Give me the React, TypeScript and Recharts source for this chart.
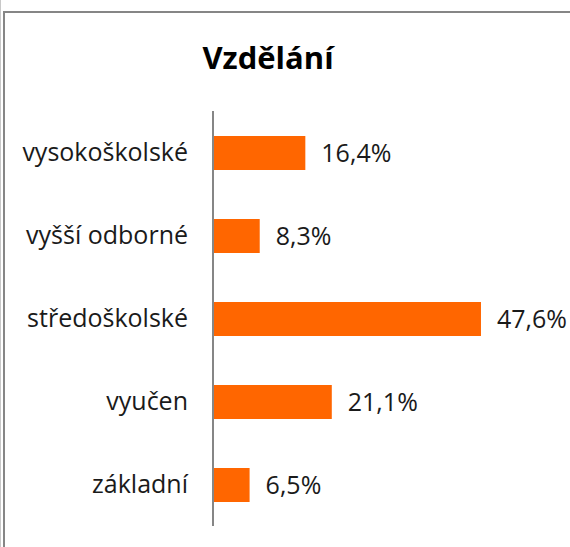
import React from "react";
import { BarChart, Bar, XAxis, YAxis, LabelList } from "recharts";

// education levels, top to bottom as in the chart
const categories = ["vysokoškolské", "vyšší odborné", "středoškolské", "vyučen", "základní"];
const shares = [16.4, 8.3, 47.6, 21.1, 6.5];

const data = categories.map((name, i) => ({ name, value: shares[i] }));

const FONT = "'Open Sans', 'Noto Sans', sans-serif";

const fmt = (v: number) => v.toFixed(1).replace(".", ",") + "%";

export default function App() {
  return (
    <div style={{ position: "absolute", left: 0, top: 0, width: 570, height: 547, background: "#fff", overflow: "hidden" }}>
      {/* chart frame: only the top and left edges fall inside the picture */}
      <div style={{ position: "absolute", left: 0, top: 0, width: 1, height: 547, background: "#c8c8c8" }} />
      <div style={{ position: "absolute", left: 3, top: 11, width: 600, height: 600, borderTop: "2px solid #868686", borderLeft: "2px solid #868686" }} />
      <div
        style={{
          position: "absolute",
          left: 0,
          width: 536,
          top: 37,
          textAlign: "center",
          fontFamily: FONT,
          fontWeight: 700,
          fontSize: 31,
          color: "#000",
          lineHeight: "40px",
        }}
      >
        Vzdělání
      </div>
      <div style={{ position: "absolute", left: 0, top: 0 }}>
        <BarChart
          width={570}
          height={547}
          data={data}
          layout="vertical"
          margin={{ top: 111, right: 75.5, bottom: 21, left: 0 }}
          barSize={34}
        >
          <XAxis type="number" domain={[0, 50]} hide />
          <YAxis
            type="category"
            dataKey="name"
            width={213}
            axisLine={{ stroke: "#868686", strokeWidth: 2 }}
            tickLine={false}
            tickSize={0}
            tickMargin={25}
            tick={{ fill: "#1a1a1a", fontSize: 25, fontFamily: FONT }}
          />
          <Bar dataKey="value" fill="#ff6600" isAnimationActive={false}>
            <LabelList
              dataKey="value"
              position="right"
              offset={16}
              formatter={(v: any) => fmt(Number(v))}
              style={{ fill: "#1a1a1a", fontSize: 25, fontFamily: FONT }}
            />
          </Bar>
        </BarChart>
      </div>
    </div>
  );
}
